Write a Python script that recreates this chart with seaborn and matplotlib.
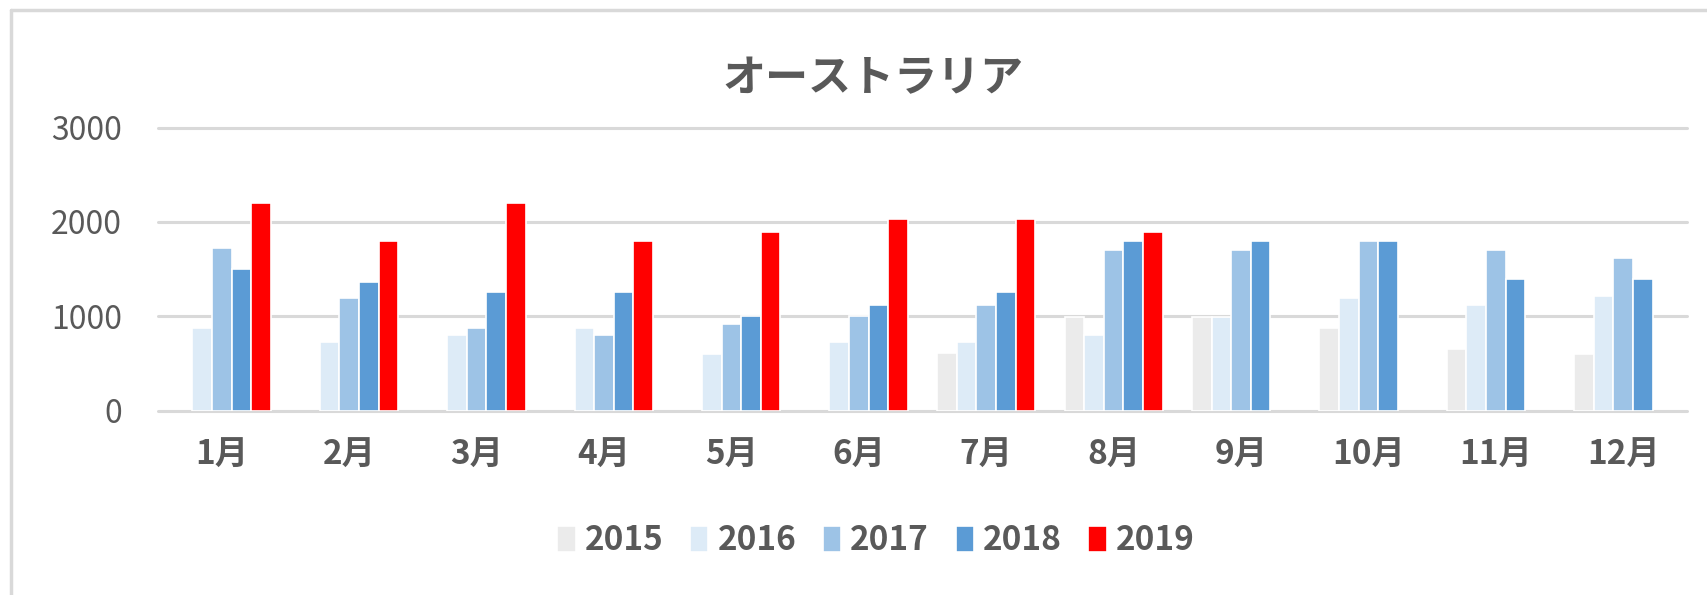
import numpy as np
import pandas as pd
import matplotlib
matplotlib.use("Agg")
import matplotlib.pyplot as plt
from matplotlib.lines import Line2D
import seaborn as sns

months = ["1月", "2月", "3月", "4月", "5月", "6月", "7月", "8月", "9月", "10月", "11月", "12月"]
years = ["2015", "2016", "2017", "2018", "2019"]
nan = np.nan
v2015 = [nan, nan, nan, nan, nan, nan, 610, 990, 990, 880, 650, 600]
v2016 = [880, 730, 800, 880, 600, 730, 730, 800, 990, 1190, 1120, 1210]
v2017 = [1720, 1190, 880, 800, 920, 1000, 1120, 1700, 1700, 1800, 1700, 1620]
v2018 = [1500, 1360, 1260, 1260, 1000, 1120, 1260, 1800, 1800, 1800, 1400, 1400]
v2019 = [2200, 1800, 2200, 1800, 1890, 2030, 2030, 1890, nan, nan, nan, nan]
colors = ["#EBEBEB", "#DDEBF7", "#9DC3E6", "#5B9BD5", "#FF0000"]
yticks = [0, 1000, 2000, 3000]
title = "オーストラリア"

series = [v2015, v2016, v2017, v2018, v2019]
rows = []
for yr, vals in zip(years, series):
    for m, v in zip(months, vals):
        if not np.isnan(v):
            rows.append({"month": m, "year": yr, "value": v})
df = pd.DataFrame(rows)

sns.set_theme(style="white")
plt.rcParams["font.family"] = ["Noto Sans CJK JP", "DejaVu Sans"]
TXT = "#595959"
GRID = "#D9D9D9"

W, H = 1708, 595
fig = plt.figure(figsize=(W / 100, H / 100), dpi=100)
fig.patch.set_facecolor("white")
ax = fig.add_axes([158 / W, 1 - 410.7 / H, (1687 - 158) / W, (410.7 - 127.5) / H])

sns.barplot(data=df, x="month", y="value", hue="year", order=months, hue_order=years,
            palette=colors, saturation=1, width=0.77, edgecolor="white", linewidth=1.2,
            errorbar=None, ax=ax)

handles, labels = ax.get_legend_handles_labels()
if ax.get_legend() is not None:
    ax.get_legend().remove()

ax.set_ylim(0, 3000)
ax.set_yticks(yticks)
ax.set_yticklabels([str(t) for t in yticks])
ax.set_xlabel("")
ax.set_ylabel("")
ax.set_axisbelow(True)
ax.yaxis.grid(True, color=GRID, linewidth=2.2)
for gl in ax.get_ygridlines():
    gl.set_clip_on(False)
for s in ax.spines.values():
    s.set_visible(False)
ax.tick_params(axis="y", length=0, pad=26, labelsize=23, labelcolor=TXT)
ax.tick_params(axis="x", length=0, pad=20, labelsize=24, labelcolor=TXT)
for lab in ax.get_xticklabels():
    lab.set_fontweight("bold")

fig.text(873 / W, 1 - 78 / H, title, ha="center", va="center",
         fontsize=31, fontweight="bold", color=TXT)

leg = fig.legend(handles, labels, loc="center", bbox_to_anchor=(876 / W, 1 - 541 / H),
                 ncol=5, frameon=False, fontsize=24, handlelength=0.55, handleheight=0.8,
                 handletextpad=0.27, columnspacing=0.8, borderaxespad=0)
for t in leg.get_texts():
    t.set_color(TXT)
    t.set_fontweight("bold")

fig.add_artist(Line2D([11 / W, 1.0], [1 - 10 / H, 1 - 10 / H], transform=fig.transFigure,
                      color=GRID, linewidth=2.5))
fig.add_artist(Line2D([11 / W, 11 / W], [0, 1 - 10 / H], transform=fig.transFigure,
                      color=GRID, linewidth=2.5))

fig.savefig("out.png", dpi=100, facecolor="white")
